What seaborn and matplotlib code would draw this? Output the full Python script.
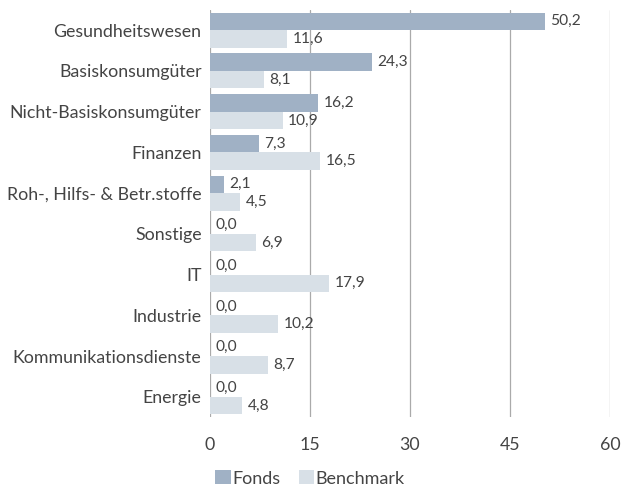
import pandas as pd
import seaborn as sns
import matplotlib.pyplot as plt

# Sector weights (%)
sectors = ["Gesundheitswesen", "Basiskonsumgüter", "Nicht-Basiskonsumgüter", "Finanzen",
           "Roh-, Hilfs- & Betr.stoffe", "Sonstige", "IT", "Industrie",
           "Kommunikationsdienste", "Energie"]
fonds = [50.2, 24.3, 16.2, 7.3, 2.1, 0.0, 0.0, 0.0, 0.0, 0.0]
benchmark = [11.6, 8.1, 10.9, 16.5, 4.5, 6.9, 17.9, 10.2, 8.7, 4.8]
x_ticks = [0, 15, 30, 45, 60]

df = pd.DataFrame({
    "Sektor": sectors * 2,
    "Wert": fonds + benchmark,
    "Serie": ["Fonds"] * len(sectors) + ["Benchmark"] * len(sectors),
})

sns.set_style("white")
plt.rcParams["font.family"] = ["Lato", "DejaVu Sans"]
text_col = "#444444"

fig = plt.figure(figsize=(6.23, 4.88), dpi=100)
ax = fig.add_axes([0.337, 0.145, 0.642, 0.835])

sns.barplot(data=df, y="Sektor", x="Wert", hue="Serie", orient="h",
            palette={"Fonds": "#9AB0CB", "Benchmark": "#D5E0EA"},
            width=0.86, linewidth=0, ax=ax, zorder=2)

for cont in ax.containers:
    ax.bar_label(cont, labels=[f"{w:.1f}".replace(".", ",") for w in cont.datavalues],
                 padding=4, fontsize=11.2, color=text_col)

ax.set_xlim(0, 60)
ax.set_xticks(x_ticks)
ax.set_ylim(9.5, -0.5)
ax.xaxis.grid(True, color="#AAAAAA", linewidth=0.9, zorder=0)
for s in ax.spines.values():
    s.set_visible(False)
ax.tick_params(axis="x", length=10, color="#AAAAAA", width=0.9, pad=4,
               labelsize=12.8, labelcolor=text_col)
ax.tick_params(axis="y", length=0, pad=6, labelsize=12.8, labelcolor=text_col)
ax.set_xlabel("")
ax.set_ylabel("")

ax.legend(loc="upper left", bbox_to_anchor=(-0.005, -0.112), ncol=2, frameon=False,
          handlelength=0.85, handleheight=0.85, handletextpad=0.1, columnspacing=1.0,
          fontsize=13, labelcolor=text_col, borderaxespad=0)

fig.savefig("out.png", dpi=100)
